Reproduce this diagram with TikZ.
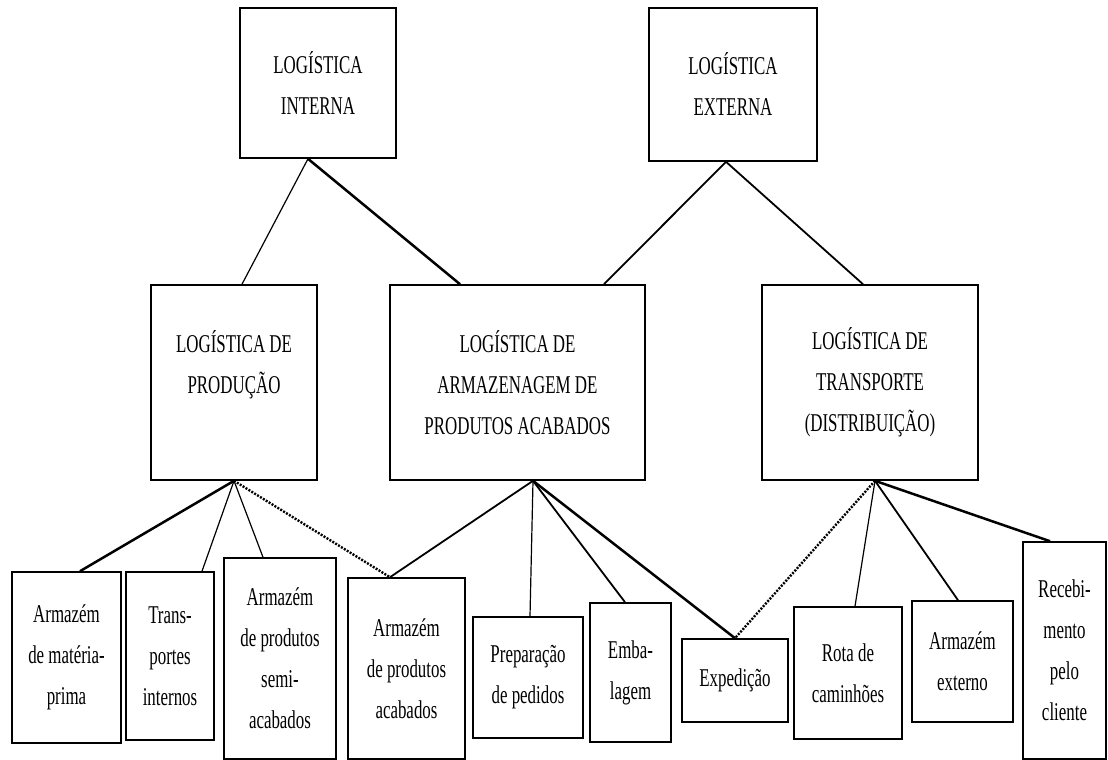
\documentclass[tikz,border=0pt]{standalone}
\usepackage{fontspec}
\setmainfont{Liberation Serif}[FakeStretch=0.66]
\begin{document}
\begin{tikzpicture}[
  x=0.5pt, y=-0.5pt,
  box/.style={draw, line width=0.8pt, align=center, inner sep=0pt,
    font=\fontsize{12.8}{20.5}\selectfont},
  thinlink/.style={line width=0.6pt},
  midlink/.style={line width=0.9pt},
  heavylink/.style={line width=1.25pt},
  dotlink/.style={line width=1.2pt, dash pattern=on 1pt off 0.7pt}
]
\useasboundingbox (0,0) rectangle (1108,760);

\node[box, minimum width=78pt, minimum height=75pt]   (intl)  at (318,83)    {LOGÍSTICA\\INTERNA};
\node[box, minimum width=84pt, minimum height=76.5pt] (extl)  at (733,84.5)  {LOGÍSTICA\\EXTERNA};

\node[box, minimum width=83pt,   minimum height=97.5pt] (prod)  at (234,382.5)   {LOGÍSTICA DE\\PRODUÇÃO\\ \mbox{}};
\node[box, minimum width=127.5pt, minimum height=97.5pt] (arm)   at (517.5,382.5) {LOGÍSTICA DE\\ARMAZENAGEM DE\\PRODUTOS ACABADOS};
\node[box, minimum width=108pt,  minimum height=97.5pt] (trans) at (870,382.5)   {LOGÍSTICA DE\\TRANSPORTE\\(DISTRIBUIÇÃO)};

\node[box, minimum width=54.5pt, minimum height=85.5pt]  (mat)   at (66.5,657.5)  {Armazém\\de matéria-\\prima};
\node[box, minimum width=44pt,   minimum height=84pt]    (tint)  at (170,656)     {Trans-\\portes\\internos};
\node[box, minimum width=56pt,   minimum height=100.5pt] (semi)  at (280,658.5)   {Armazém\\de produtos\\semi-\\acabados};
\node[box, minimum width=58.5pt, minimum height=90.5pt]  (acab)  at (406.5,668.5) {Armazém\\de produtos\\acabados};
\node[box, minimum width=55pt,   minimum height=60.5pt]  (prep)  at (528,677.5)   {Preparação\\de pedidos};
\node[box, minimum width=40.5pt, minimum height=69.5pt]  (emb)   at (630.5,672.5) {Emba-\\lagem};
\node[box, minimum width=53pt,   minimum height=41.5pt]  (exped) at (735,680.5)   {Expedição};
\node[box, minimum width=54pt,   minimum height=66pt]    (rota)  at (848,673)     {Rota de\\caminhões};
\node[box, minimum width=50.5pt, minimum height=60.5pt]  (aext)  at (962.5,661.5) {Armazém\\externo};
\node[box, minimum width=41.5pt, minimum height=108.5pt] (receb) at (1064.5,650.5) {Recebi-\\mento\\pelo\\cliente};

\draw[thinlink]  ([xshift=-5pt]intl.south) -- ([xshift=4pt]prod.north);
\draw[heavylink] ([xshift=-5pt]intl.south) -- ([xshift=-28.75pt]arm.north);
\draw[midlink]   ([xshift=-3.5pt]extl.south) -- ([xshift=43.25pt]arm.north);
\draw[midlink]   ([xshift=-3.5pt]extl.south) -- ([xshift=-3.5pt]trans.north);

\draw[heavylink] (prod.south) -- ([xshift=6.75pt]mat.north);
\draw[thinlink]  (prod.south) -- ([xshift=16pt]tint.north);
\draw[thinlink]  (prod.south) -- ([xshift=-8.5pt]semi.north);
\draw[dotlink]   (prod.south) -- ([xshift=-8.25pt]acab.north);

\draw[midlink]   ([xshift=7.75pt]arm.south) -- ([xshift=-8.25pt]acab.north);
\draw[thinlink]  ([xshift=7.75pt]arm.south) -- ([xshift=1pt]prep.north);
\draw[midlink]   ([xshift=7.75pt]arm.south) -- ([xshift=-2.75pt]emb.north);
\draw[heavylink] ([xshift=7.75pt]arm.south) -- (exped.north);

\draw[dotlink]   ([xshift=2.5pt]trans.south) -- (exped.north);
\draw[thinlink]  ([xshift=2.5pt]trans.south) -- ([xshift=3.5pt]rota.north);
\draw[midlink]   ([xshift=2.5pt]trans.south) -- ([xshift=-2.25pt]aext.north);
\draw[heavylink] ([xshift=2.5pt]trans.south) -- ([xshift=-7.25pt]receb.north);
\end{tikzpicture}
\end{document}
